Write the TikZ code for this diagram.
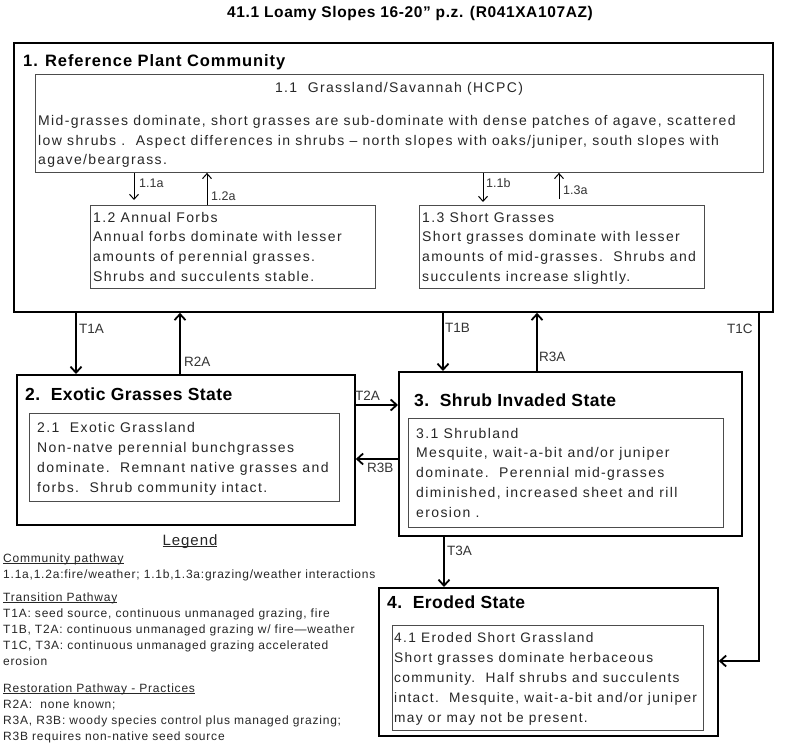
\documentclass[tikz,border=0pt]{standalone}
\usepackage{fontspec}
\setmainfont{Liberation Sans}
\newfontfamily\boxf[LetterSpace=9.8]{Liberation Sans}
\newfontfamily\legf[LetterSpace=6.5]{Liberation Sans}
\newfontfamily\headf[LetterSpace=2.5]{Liberation Sans}
\newfontfamily\reff[LetterSpace=5.5]{Liberation Sans}
\newfontfamily\titf[LetterSpace=4]{Liberation Sans}
\usetikzlibrary{arrows.meta}
\newcommand{\mlines}[1]{\begin{tabular}[t]{@{}l@{}}#1\end{tabular}}
\newcommand{\uln}[1]{\setbox0\hbox{#1}\rlap{\rule[-1.8pt]{\wd0}{0.7pt}}\box0}
\begin{document}
\begin{tikzpicture}[x=1pt,y=-1pt,
  statebox/.style={draw=black, line width=1.8pt, inner sep=0pt, anchor=north west},
  phasebox/.style={draw=black!70, line width=0.9pt, inner sep=0pt, anchor=north west},
  body/.style={anchor=base west, inner sep=0pt, text=black!85},
  head/.style={anchor=base west, inner sep=0pt, font=\headf\bfseries\fontsize{17.5}{20}\selectfont},
  lbl/.style={anchor=base west, inner sep=0pt, font=\fontsize{13.5}{16}\selectfont, text=black!80},
  plbl/.style={anchor=base west, inner sep=0pt, font=\fontsize{12.5}{15}\selectfont, text=black!80},
  leg/.style={anchor=base west, inner sep=0pt, font=\legf\fontsize{12}{16.2}\selectfont, text=black!85},
  trans/.style={-{Straight Barb[length=6pt,width=11pt]}, line width=1.8pt},
  comm/.style={-{Straight Barb[length=5pt,width=9pt]}, line width=1pt},
]
\useasboundingbox (0,0) rectangle (800,749);

% title
\node[anchor=base, inner sep=0pt, font=\titf\bfseries\fontsize{15.5}{18}\selectfont] (title) at (410,18) {41.1 Loamy Slopes 16-20” p.z. (R041XA107AZ)};

% state 1
\node[statebox, minimum width=759, minimum height=269] (s1) at (13,42) {};
\node[anchor=base west, inner sep=0pt, font=\reff\bfseries\fontsize{16.5}{20}\selectfont] (s1t) at (23,67) {1. Reference Plant Community};

\node[phasebox, minimum width=728, minimum height=98] (p11) at (35,74) {};
\node[body, anchor=base, font=\boxf\fontsize{14}{19.5}\selectfont] (p11t) at (399,93) {1.1\ \ Grassland/Savannah (HCPC)};
\node[body, font=\boxf\fontsize{14}{19.5}\selectfont] (p11b) at (38,126) {\mlines{Mid-grasses dominate, short grasses are sub-dominate with dense patches of agave, scattered\\low shrubs .\ \ Aspect differences in shrubs – north slopes with oaks/juniper, south slopes with\\agave/beargrass.}};

\node[phasebox, minimum width=285, minimum height=83] (p12) at (90,205) {};
\node[body, font=\boxf\fontsize{14}{19.7}\selectfont] (p12b) at (93,222) {\mlines{1.2 Annual Forbs\\Annual forbs dominate with lesser\\amounts of perennial grasses.\\Shrubs and succulents stable.}};

\node[phasebox, minimum width=285, minimum height=83] (p13) at (419,205) {};
\node[body, font=\boxf\fontsize{14}{19.7}\selectfont] (p13b) at (422,222) {\mlines{1.3 Short Grasses\\Short grasses dominate with lesser\\amounts of mid-grasses.\ \ Shrubs and\\succulents increase slightly.}};

% community pathways
\draw[comm, shorten >=5pt] (p11.south -| 134,0) -- (p12.north -| 134,0);
\node[plbl] (l11a) at (139,187) {1.1a};
\draw[comm] (p12.north -| 207,0) -- (p11.south -| 207,0);
\node[plbl] (l12a) at (211,200) {1.2a};
\draw[comm, shorten >=3pt] (p11.south -| 483,0) -- (p13.north -| 483,0);
\node[plbl] (l11b) at (486,187) {1.1b};
\draw[comm, shorten <=6pt] (p13.north -| 559,0) -- (p11.south -| 559,0);
\node[plbl] (l13a) at (563,194) {1.3a};

% state 2
\node[statebox, minimum width=338, minimum height=150] (s2) at (16,374) {};
\node[head] (s2t) at (25,400) {2.\ \ Exotic Grasses State};
\node[phasebox, minimum width=310, minimum height=88] (p21) at (29,413) {};
\node[body, font=\boxf\fontsize{14}{20}\selectfont] (p21b) at (37,432) {\mlines{2.1\ \ Exotic Grassland\\Non-natve perennial bunchgrasses\\dominate.\ \ Remnant native grasses and\\forbs.\ \ Shrub community intact.}};

% state 3
\node[statebox, minimum width=343, minimum height=164] (s3) at (398,371) {};
\node[head] (s3t) at (414,406) {3.\ \ Shrub Invaded State};
\node[phasebox, minimum width=315, minimum height=109] (p31) at (408,418) {};
\node[body, font=\boxf\fontsize{14}{19.75}\selectfont] (p31b) at (416,438) {\mlines{3.1 Shrubland\\Mesquite, wait-a-bit and/or juniper\\dominate.\ \ Perennial mid-grasses\\diminished, increased sheet and rill\\erosion .}};

% state 4
\node[statebox, minimum width=339, minimum height=148] (s4) at (378,587) {};
\node[head] (s4t) at (387,608) {4.\ \ Eroded State};
\node[phasebox, minimum width=311, minimum height=105] (p41) at (392,625) {};
\node[body, font=\boxf\fontsize{13.7}{20}\selectfont] (p41b) at (394,642) {\mlines{4.1 Eroded Short Grassland\\Short grasses dominate herbaceous\\community.\ \ Half shrubs and succulents\\intact.\ \ Mesquite, wait-a-bit and/or juniper\\may or may not be present.}};

% transitions
\draw[trans] (s1.south -| 76,0) -- (s2.north -| 76,0);
\node[lbl] (lt1a) at (79,333) {T1A};
\draw[trans] (s2.north -| 180,0) -- (s1.south -| 180,0);
\node[lbl] (lr2a) at (184,366) {R2A};
\draw[trans] (s1.south -| 443,0) -- (s3.north -| 443,0);
\node[lbl] (lt1b) at (445,332) {T1B};
\draw[trans] (s3.north -| 537,0) -- (s1.south -| 537,0);
\node[lbl] (lr3a) at (539,361) {R3A};
\coordinate (c1c) at (759,661);
\draw[trans] (s1.south -| c1c) -- (c1c) -- (s4.east |- c1c);
\node[lbl] (lt1c) at (727,333) {T1C};
\draw[trans] (s2.east |- 0,405) -- (s3.west |- 0,405);
\node[lbl] (lt2a) at (355,400) {T2A};
\draw[trans] (s3.west |- 0,459) -- (s2.east |- 0,459);
\node[lbl] (lr3b) at (367,472) {R3B};
\draw[trans] (s3.south -| 444,0) -- (s4.north -| 444,0);
\node[lbl] (lt3a) at (447,555) {T3A};

% legend
\node[leg, anchor=base, font=\legf\fontsize{15}{18}\selectfont] (legt) at (190,545) {\uln{Legend}};
\node[leg] (lg1) at (3,562) {\mlines{\uln{Community pathway}\\1.1a,1.2a:fire/weather;\ 1.1b,1.3a:grazing/weather\ interactions}};
\node[leg] (lg2) at (3,601) {\mlines{\uln{Transition Pathway}\\T1A:\ seed source, continuous unmanaged grazing, fire\\T1B, T2A:\ continuous unmanaged grazing w/ fire—weather\\T1C, T3A:\ continuous unmanaged grazing accelerated\\erosion}};
\node[leg] (lg3) at (3,692) {\mlines{\uln{Restoration Pathway - Practices}\\R2A:\ \ none known;\\R3A, R3B:\ woody species control plus managed grazing;\\R3B requires non-native seed source}};
\end{tikzpicture}
\end{document}
